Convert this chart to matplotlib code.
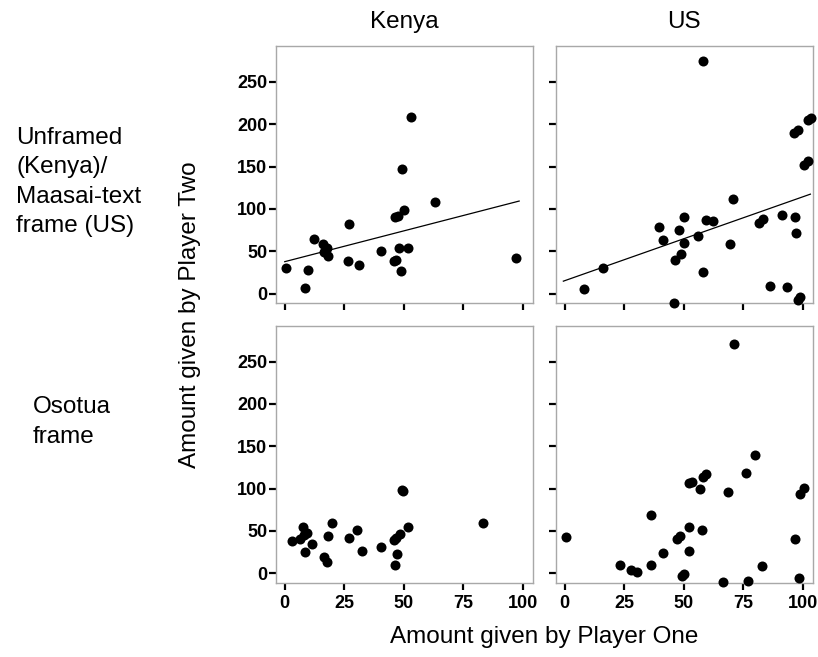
#!/usr/bin/env python3
"""Trust game scatter: Player Two return vs Player One gift, by country and frame."""

import matplotlib

matplotlib.use("Agg")
import matplotlib.pyplot as plt
import numpy as np

plt.rcParams["font.family"] = ["Liberation Sans", "DejaVu Sans"]

COUNTRIES = ["Kenya", "US"]
FRAMES = ["Unframed\n(Kenya)/\nMaasai-text\nframe (US)", "Osotua\nframe"]
X_TICKS = [0, 25, 50, 75, 100]
Y_TICKS = [0, 50, 100, 150, 200, 250]

# Kenya, unframed
ken_unf_x = [0.6, 8.4, 9.8, 12.3, 16.2, 16.5, 17.9, 18.2, 27.0, 26.5, 31.4, 40.6,
             46.1, 46.6, 46.4, 47.5, 47.9, 48.9, 49.4, 50.0, 51.8, 52.9, 63.1, 97.0]
ken_unf_y = [30.6, 6.3, 28.3, 64.8, 58.1, 49.0, 53.8, 44.0, 81.6, 38.5, 33.4, 50.6,
             38.1, 40.0, 90.0, 91.8, 53.8, 26.7, 147.6, 98.9, 53.8, 208.4, 108.7, 41.6]

# US, Maasai-text frame
us_unf_x = [8.1, 16.2, 39.6, 41.2, 46.1, 46.5, 47.9, 48.9, 50.0, 50.0, 56.0, 58.3,
            58.3, 59.3, 62.4, 69.5, 70.6, 81.9, 83.3, 86.4, 91.3, 93.3, 96.9, 97.3,
            96.6, 98.0, 98.0, 99.0, 100.6, 102.5, 102.2, 103.4]
us_unf_y = [5.5, 29.8, 78.5, 63.6, -11.0, 40.0, 74.6, 47.1, 89.9, 59.3, 67.9, 25.1,
            275.0, 87.1, 85.6, 58.1, 111.5, 83.6, 87.9, 9.4, 92.2, 8.2, 89.9, 71.4,
            189.6, 193.1, -7.1, -3.9, 151.5, 156.2, 204.9, 206.8]

# Kenya, Osotua frame
ken_oso_x = [3.1, 6.6, 7.7, 8.0, 9.4, 8.4, 11.3, 16.3, 17.7, 18.2, 19.7, 27.0,
             30.3, 32.4, 40.6, 46.1, 46.6, 46.5, 47.2, 48.5, 49.2, 49.7, 52.0, 83.2]
ken_oso_y = [38.2, 40.6, 54.3, 45.3, 47.2, 24.8, 34.6, 19.7, 13.8, 44.1, 59.8, 41.7,
             51.2, 26.4, 31.5, 39.4, 41.3, 9.4, 22.8, 46.9, 98.4, 97.2, 54.3, 59.1]

# US, Osotua frame
us_oso_x = [0.7, 23.2, 28.1, 30.6, 36.4, 36.4, 41.4, 47.3, 48.7, 49.2, 50.4, 52.1,
            52.1, 52.5, 53.4, 57.0, 57.7, 58.3, 59.6, 66.6, 68.8, 71.1, 76.1, 77.0,
            80.1, 83.1, 96.9, 98.5, 98.9, 100.8]
us_oso_y = [42.8, 9.4, 3.9, 1.2, 69.1, 9.4, 23.5, 40.8, 43.9, -2.7, -0.8, 54.9,
            26.3, 106.4, 107.9, 99.7, 51.0, 113.8, 116.9, -10.2, 95.4, 271.2, 118.5, -9.0,
            140.1, 8.2, 40.4, -5.5, 93.8, 100.9]

PANELS = [
    [(ken_unf_x, ken_unf_y), (us_unf_x, us_unf_y)],
    [(ken_oso_x, ken_oso_y), (us_oso_x, us_oso_y)],
]
# only the top row carries a fitted line; x span of each drawn line
FIT_SPAN = [[(0.0, 98.5), (-0.5, 103.3)], None]

W, H = 818, 657
COL_LEFT = [275.7, 555.5]
ROW_TOP = [46.3, 326.0]
PW, PH = 257.5, 257.0


def main():
    fig = plt.figure(figsize=(W / 100, H / 100), dpi=100)

    for r in range(2):
        for c in range(2):
            ax = fig.add_axes([COL_LEFT[c] / W, 1 - (ROW_TOP[r] + PH) / H, PW / W, PH / H])
            xs, ys = PANELS[r][c]
            ax.scatter(xs, ys, s=52, color="black", linewidths=0, zorder=3, clip_on=False)
            if FIT_SPAN[r] is not None:
                slope, icpt = np.polyfit(xs, ys, 1)
                x0, x1 = FIT_SPAN[r][c]
                lx = np.array([x0, x1])
                ax.plot(lx, icpt + slope * lx, color="black", linewidth=0.9, zorder=2)

            ax.set_xlim(-3.8, 104.4)
            ax.set_ylim(-11.5, 292)
            ax.set_xticks(X_TICKS)
            ax.set_yticks(Y_TICKS)
            ax.tick_params(length=5, width=1.6, color="black", pad=1,
                           labelsize=13, direction="out")
            ax.tick_params(axis="x", pad=4)
            for lab in ax.get_xticklabels() + ax.get_yticklabels():
                lab.set_fontweight("bold")
            if r == 0:
                ax.set_xticklabels([])
            if c == 1:
                ax.set_yticklabels([])
            for sp in ax.spines.values():
                sp.set_color("#a8a8a8")
                sp.set_linewidth(1.0)
            if r == 0:
                ax.set_title(COUNTRIES[c], fontsize=17.5, pad=13)

    fig.text(16 / W, 1 - 182 / H, FRAMES[0], fontsize=17.5, ha="left", va="center",
             linespacing=1.45)
    fig.text(33 / W, 1 - 422 / H, FRAMES[1], fontsize=17.5, ha="left", va="center",
             linespacing=1.45)
    fig.text(190 / W, 1 - 314.5 / H, "Amount given by Player Two", fontsize=17.5,
             rotation=90, ha="center", va="center")
    fig.text(544 / W, 1 - 637 / H, "Amount given by Player One", fontsize=17.5,
             ha="center", va="center")

    fig.savefig("out.png", dpi=100)


if __name__ == "__main__":
    main()
